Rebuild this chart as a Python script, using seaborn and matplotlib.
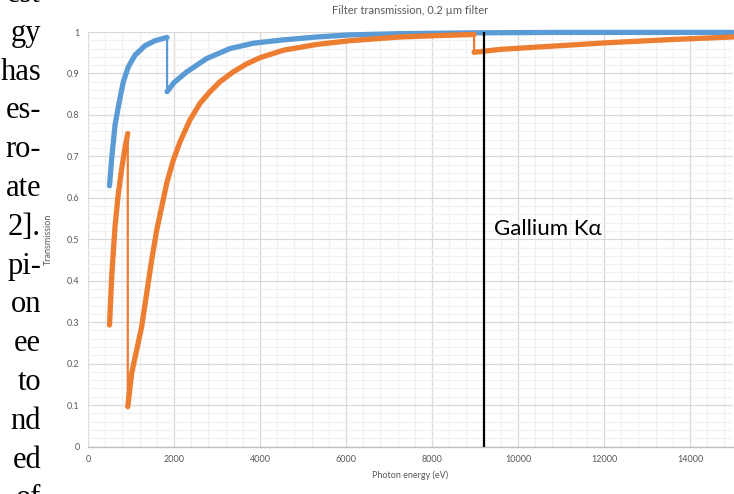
import matplotlib
matplotlib.use("Agg")
import matplotlib.pyplot as plt
import seaborn as sns
import pandas as pd
import numpy as np

# ---------------- data ----------------
blue_e1 = [500, 551, 628, 720, 822, 938, 1093, 1326, 1558, 1839]
blue_t1 = [0.629, 0.695, 0.775, 0.828, 0.880, 0.916, 0.944, 0.967, 0.979, 0.987]
blue_e2 = [1839, 2000, 2300, 2760, 3300, 3850, 4540, 5320, 6090, 7260, 9000, 11000, 13000, 15000]
blue_t2 = [0.856, 0.878, 0.904, 0.936, 0.960, 0.973, 0.981, 0.988, 0.993, 0.996, 0.998, 0.999, 0.999, 0.999]

orange_e1 = [500, 551, 628, 705, 783, 860, 925]
orange_t1 = [0.293, 0.410, 0.530, 0.610, 0.670, 0.720, 0.755]
orange_e2 = [925, 1016, 1132, 1248, 1365, 1481, 1598, 1714, 1830, 1984, 2140, 2372, 2605,
             2837, 3070, 3380, 3690, 4000, 4540, 5320, 6090, 7260, 8030, 8979]
orange_t2 = [0.096, 0.177, 0.233, 0.289, 0.370, 0.450, 0.522, 0.578, 0.635, 0.691, 0.735, 0.788, 0.828,
             0.856, 0.880, 0.904, 0.923, 0.938, 0.956, 0.970, 0.979, 0.988, 0.991, 0.994]
orange_e3 = [8979, 9580, 10510, 12060, 13610, 15000]
orange_t3 = [0.951, 0.958, 0.964, 0.974, 0.982, 0.988]

gallium_ka = 9220
x_ticks = [0, 2000, 4000, 6000, 8000, 10000, 12000, 14000]
x_tick_labels = ["0", "2000", "4000", "6000", "8000", "10000", "12000", "14000"]
y_ticks = [0, 0.1, 0.2, 0.3, 0.4, 0.5, 0.6, 0.7, 0.8, 0.9, 1.0]
y_tick_labels = ["0", "0.1", "0.2", "0.3", "0.4", "0.5", "0.6", "0.7", "0.8", "0.9", "1"]

left_text = ["est", "gy", "has", "es-", "ro-", "ate", "2].", "pi-", "on", "ee", "to", "nd", "ed", "of"]

BLUE = "#5B9BD5"
ORANGE = "#ED7D31"
GREY = "#595959"

sns.set_theme(style="white")
plt.rcParams["font.family"] = ["Lato", "DejaVu Sans"]

W, H = 734, 494
fig = plt.figure(figsize=(W / 100, H / 100), dpi=100)
ax_l, ax_r, ax_t, ax_b = 88, 733, 32, 446.5
ax = fig.add_axes([ax_l / W, 1 - ax_b / H, (ax_r - ax_l) / W, (ax_b - ax_t) / H])

# thin lines through full series (shows the absorption-edge jumps)
blue_df = pd.DataFrame({"e": blue_e1 + blue_e2, "t": blue_t1 + blue_t2})
orange_df = pd.DataFrame({"e": orange_e1 + orange_e2 + orange_e3,
                          "t": orange_t1 + orange_t2 + orange_t3})
for df, c in [(blue_df, BLUE), (orange_df, ORANGE)]:
    sns.lineplot(data=df, x="e", y="t", ax=ax, color=c, lw=1.6,
                 estimator=None, sort=False, clip_on=False)

# thick segments (dense markers in the original)
for e, t, c in [(blue_e1, blue_t1, BLUE), (blue_e2, blue_t2, BLUE),
                (orange_e1, orange_t1, ORANGE), (orange_e2, orange_t2, ORANGE),
                (orange_e3, orange_t3, ORANGE)]:
    sns.lineplot(x=e, y=t, ax=ax, color=c, lw=3.8, estimator=None, sort=False,
                 clip_on=False, solid_capstyle="round", solid_joinstyle="round")

ax.axvline(gallium_ka, color="black", lw=1.6, zorder=5)
ax.text(gallium_ka + 230, 0.524, "Gallium K\u03b1", fontsize=16, color="black",
        va="center", ha="left")

ax.set_xlim(0, 15000)
ax.set_ylim(0, 1)
ax.set_xticks(x_ticks)
ax.set_xticklabels(x_tick_labels)
ax.set_yticks(y_ticks)
ax.set_yticklabels(y_tick_labels)
ax.set_xticks(np.arange(0, 15001, 400), minor=True)
ax.set_yticks(np.arange(0, 1.001, 0.02), minor=True)
ax.grid(which="major", color="#D9D9D9", lw=0.9)
ax.grid(which="minor", color="#F0F0F0", lw=0.8)
ax.set_axisbelow(True)
ax.tick_params(which="both", length=0)
ax.tick_params(axis="x", labelsize=6.5, labelcolor=GREY, pad=6)
ax.tick_params(axis="y", labelsize=6.5, labelcolor=GREY, pad=6)
for s in ["top", "right", "left"]:
    ax.spines[s].set_visible(False)
ax.spines["bottom"].set_color("#BFBFBF")
ax.spines["bottom"].set_linewidth(1.0)

ax.set_xlabel("Photon energy (eV)", fontsize=6.5, color=GREY, labelpad=5)
ax.set_ylabel("Transmission", fontsize=6.5, color=GREY, labelpad=10)

fig.text(410 / W, 1 - 10 / H, "Filter transmission, 0.2 \u00b5m filter", fontsize=8,
         color=GREY, ha="center", va="center")

# fragment of the surrounding page text (serif, right-aligned)
for i, s in enumerate(left_text):
    y = 2 + 38.8 * i
    fig.text(41 / W, 1 - y / H, s, fontsize=22, family="Liberation Serif",
             color="black", ha="right", va="baseline")

fig.savefig("out.png", dpi=100)
